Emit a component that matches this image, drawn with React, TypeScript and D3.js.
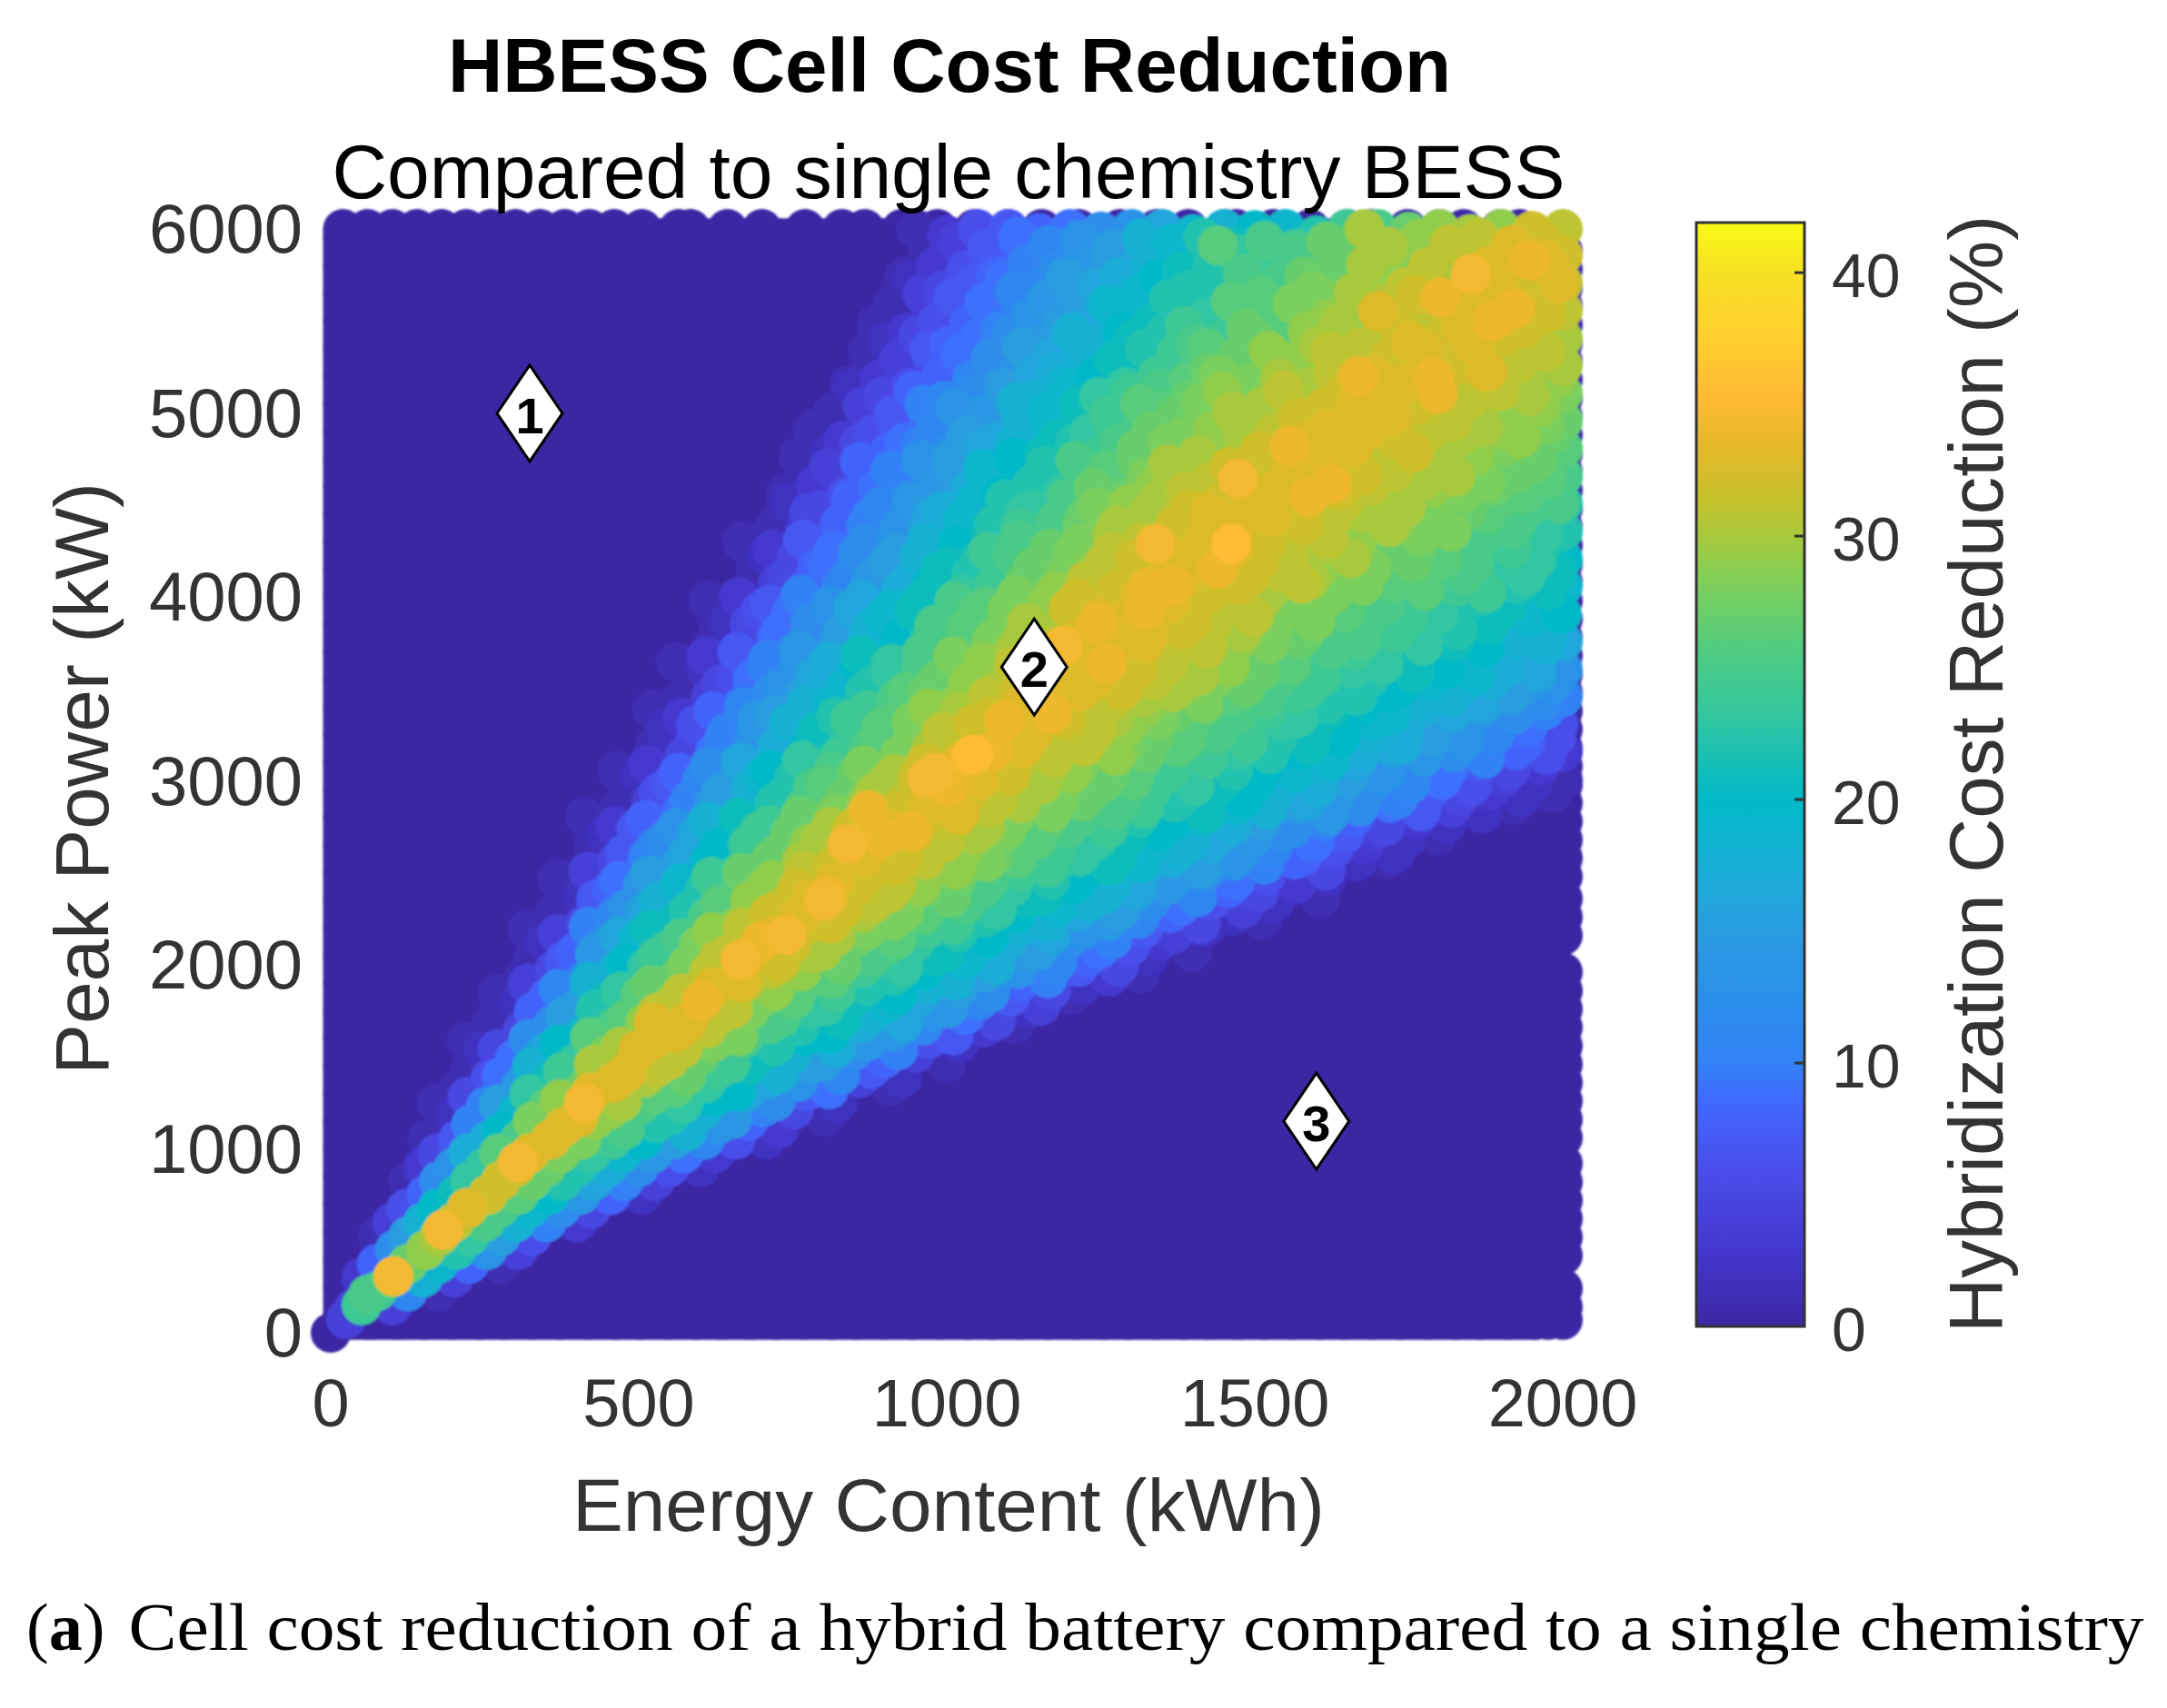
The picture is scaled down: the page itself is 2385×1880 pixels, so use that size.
import React from "react";
import * as d3 from "d3";

const titleText = "HBESS Cell Cost Reduction";
const subtitleText = "Compared to single chemistry BESS";
const xLabelText = "Energy Content (kWh)";
const yLabelText = "Peak Power (kW)";
const colorbarLabelText = "Hybridization Cost Reduction (%)";
const captionText = "Cell cost reduction of a hybrid battery compared to a single chemistry";

const xTicks = [0, 500, 1000, 1500, 2000];
const yTicks = [0, 1000, 2000, 3000, 4000, 5000, 6000];
const colorbarTicks = [0, 10, 20, 30, 40];
const colorbarMax = 41.9;

const colormapValues = [0, 3, 6, 8.5, 10, 13, 15, 17, 20, 23, 25.7, 28.3, 30, 31.3, 33.3, 35.2, 37.5, 40, 42];
const colormapColors = ["#3C27A4", "#4438CF", "#4A4EEA", "#4168FF", "#3282F5", "#2A92E8", "#2A9CE0", "#1CACD8", "#00B9C8", "#30C6A2", "#50CC80", "#80CF58", "#A8C93C", "#C4C22C", "#E2B82A", "#FFB935", "#FFCF2E", "#F6E024", "#FAFA14"];

// Zero-reduction simulation points that form the dark background.
const backgroundEnergy = [20, 64, 108, 152, 196, 240, 284, 328, 372, 416, 460, 504, 548, 592, 636, 680, 724, 768, 812, 856, 900, 944, 988, 1032, 1076, 1120, 1164, 1208, 1252, 1296, 1340, 1384, 1428, 1472, 1516, 1560, 1604, 1648, 1692, 1736, 1780, 1824, 1868, 1912, 1956, 1976];
const backgroundPower = [5950, 5800, 5650, 5500, 5350, 5200, 5050, 4900, 4750, 4600, 4450, 4300, 4150, 4000, 3850, 3700, 3550, 3400, 3250, 3100, 2950, 2800, 2650, 2500, 2350, 2200, 2050, 1900, 1750, 1600, 1450, 1300, 1150, 1000, 850, 700, 550, 400, 250, 100, 70];
const topEdgeEnergy = [20, 60, 100, 140, 180, 220, 260, 300, 340, 380, 420, 460, 505, 565, 584, 644, 700, 770, 830, 867, 927, 985, 1045, 1100, 1154, 1214, 1281, 1341, 1392, 1452, 1470, 1530, 1590, 1650, 1688, 1748, 1800, 1839, 1899, 1930];
const rightEdgePower = [5880, 5780, 5680, 5580, 5480, 5380, 5280, 5180, 5080, 4980, 4880, 4780, 4680, 4580, 4480, 4380, 4280, 4180, 4080, 3980, 3880, 3780, 3680, 3580, 3480, 3380, 3280, 3180, 3080, 2980, 2880, 2780, 2680, 2580, 2480, 2360, 2260, 2160, 1960, 1860, 1760, 1660, 1560, 1460, 1360, 1260, 1160, 1060, 920, 820, 720, 620, 520, 420, 240, 140, 70];

// Coloured band, first set of read points: one row per power level, one value per 50 kWh.
const bandPower = [6000, 5850, 5700, 5550, 5400, 5250, 5100, 4950, 4800, 4650, 4500, 4350, 4200, 4050, 3900, 3750, 3600, 3450, 3300, 3150, 3000, 2850, 2700, 2550, 2400, 2250, 2100, 1950, 1800, 1650, 1500, 1350, 1200, 1050, 900, 750, 600, 450, 300, 150];
const bandStartEnergy = [950, 950, 950, 900, 900, 850, 850, 800, 800, 750, 750, 700, 700, 650, 650, 600, 600, 550, 550, 500, 500, 450, 450, 400, 400, 350, 350, 300, 300, 250, 250, 200, 200, 150, 150, 150, 100, 100, 50, 50];
const bandRowShift = [0, 18, -6, 22, 4, 27, -3, 21, 8, 25, -5, 19, 6, 26, -2, 23, 9, 17, -7, 24, 3, 20, -4, 15, 7, 12, -2, 14, 3, 11, -1, 9, 2, 7, 0, 5, 0, 4, 0, 0];
const bandColumnPowerShift = [0, 4, -8, 12, -20, 30, -12, 24, -32, 10, 36, -18, 6, -38, 26, 14, -26, 34, -10, 20, -34, 8, 28, -22, 38, -14, 2, 32, -30, 16, -6, 22, -36, 12, 30, -16, 4, -28, 18, -10, 6];
const bandReduction = [
  [1, 3, 6, 7, 8, 9, 12, 13, 16, 19, 18, 20, 19, 22, 24, 25, 27, 29, 30, 29, 32, 31],
  [1, 3, 6, 8, 10, 12, 15, 16, 18, 20, 23, 22, 25, 24, 27, 29, 28, 30, 31, 32, 33, 32],
  [2, 5, 7, 9, 11, 15, 16, 17, 20, 22, 21, 25, 25, 28, 27, 29, 31, 30, 32, 33, 32, 33, 31],
  [1, 3, 6, 9, 10, 13, 14, 17, 19, 22, 23, 24, 26, 25, 29, 28, 31, 30, 32, 33, 34, 32, 31],
  [2, 5, 8, 9, 12, 14, 18, 18, 21, 22, 25, 24, 27, 26, 30, 29, 31, 33, 32, 33, 32, 31, 30],
  [1, 3, 6, 8, 11, 13, 17, 18, 20, 21, 24, 27, 26, 28, 29, 31, 30, 32, 33, 32, 33, 31, 29, 30],
  [2, 5, 8, 11, 12, 15, 18, 19, 23, 24, 25, 27, 29, 28, 31, 30, 32, 33, 32, 34, 31, 31, 30, 28, 28],
  [1, 3, 7, 9, 11, 14, 18, 19, 21, 24, 25, 27, 28, 30, 29, 32, 33, 32, 33, 31, 31, 30, 29, 28, 27, 27],
  [2, 5, 8, 10, 14, 16, 18, 21, 22, 24, 27, 28, 30, 29, 32, 33, 32, 33, 31, 32, 30, 29, 28, 27, 26, 25],
  [1, 3, 7, 9, 12, 15, 19, 20, 22, 25, 26, 28, 29, 31, 32, 31, 33, 34, 32, 31, 30, 30, 28, 27, 26, 25, 24],
  [2, 5, 8, 11, 14, 17, 19, 22, 23, 25, 28, 29, 30, 32, 32, 33, 32, 31, 31, 30, 30, 28, 27, 26, 25, 25, 22],
  [1, 3, 7, 10, 13, 16, 18, 21, 24, 25, 27, 30, 30, 32, 33, 33, 32, 31, 31, 29, 30, 28, 28, 25, 25, 23, 22, 22],
  [2, 5, 9, 12, 15, 18, 21, 22, 25, 27, 28, 31, 32, 33, 33, 32, 32, 31, 29, 30, 27, 27, 26, 25, 23, 23, 20],
  [1, 4, 7, 11, 14, 17, 20, 23, 24, 27, 29, 31, 32, 34, 33, 32, 32, 30, 31, 28, 28, 26, 26, 24, 24, 22, 21, 19],
  [2, 6, 9, 12, 16, 19, 21, 25, 26, 28, 29, 32, 33, 33, 32, 32, 30, 31, 28, 28, 26, 25, 24, 23, 21, 21, 19, 20],
  [1, 4, 8, 11, 15, 18, 20, 23, 26, 28, 30, 31, 33, 33, 33, 31, 31, 29, 28, 27, 25, 25, 23, 23, 21, 20, 18, 18, 16],
  [2, 6, 10, 13, 17, 20, 23, 25, 27, 28, 31, 32, 33, 32, 32, 31, 30, 29, 27, 26, 24, 23, 23, 21, 20, 19, 17, 16, 13],
  [1, 4, 8, 12, 15, 19, 22, 25, 27, 29, 31, 32, 33, 33, 31, 30, 30, 28, 26, 25, 24, 22, 22, 20, 18, 18, 16, 15, 12, 10],
  [2, 6, 10, 14, 18, 21, 24, 26, 28, 31, 32, 34, 32, 32, 31, 29, 28, 26, 25, 23, 23, 21, 20, 19, 17, 15, 13, 11, 9, 6],
  [1, 5, 9, 13, 17, 20, 24, 25, 28, 30, 32, 34, 33, 31, 31, 29, 27, 26, 24, 23, 22, 20, 19, 17, 16, 14, 12, 10, 8, 6, 3],
  [2, 7, 11, 15, 19, 22, 26, 27, 30, 32, 34, 33, 32, 30, 29, 27, 26, 24, 23, 21, 20, 18, 17, 15, 13, 11, 9, 6, 4, 2, 1],
  [1, 4, 9, 14, 18, 22, 25, 28, 29, 32, 33, 33, 31, 30, 28, 27, 25, 24, 22, 21, 19, 18, 15, 14, 12, 9, 7, 4, 2, 1],
  [2, 7, 12, 16, 20, 24, 27, 30, 32, 34, 33, 31, 30, 28, 26, 25, 23, 21, 20, 18, 16, 14, 12, 9, 7, 4, 2, 1],
  [1, 5, 10, 15, 20, 23, 27, 30, 32, 33, 32, 31, 29, 28, 26, 24, 23, 21, 19, 17, 15, 13, 10, 8, 5, 2, 1],
  [2, 8, 13, 18, 22, 26, 29, 32, 34, 32, 31, 29, 27, 25, 23, 21, 20, 18, 16, 14, 11, 8, 5, 2, 1],
  [1, 5, 11, 16, 21, 25, 29, 32, 33, 32, 30, 28, 26, 24, 22, 20, 18, 16, 14, 11, 8, 5, 2, 1],
  [2, 8, 14, 19, 24, 28, 31, 34, 32, 30, 27, 25, 23, 21, 19, 17, 15, 12, 9, 6, 3, 1],
  [1, 5, 11, 18, 23, 27, 31, 33, 31, 29, 26, 24, 22, 20, 18, 15, 13, 10, 7, 3, 1],
  [2, 8, 15, 21, 26, 30, 34, 31, 28, 26, 23, 21, 19, 16, 14, 11, 7, 4, 1],
  [1, 5, 12, 19, 25, 29, 33, 31, 28, 25, 22, 20, 17, 14, 11, 7, 3, 1],
  [2, 9, 16, 23, 28, 33, 31, 27, 24, 21, 18, 15, 12, 8, 4, 1],
  [1, 6, 14, 21, 27, 33, 30, 26, 23, 20, 16, 13, 9, 4, 1],
  [2, 10, 19, 26, 33, 29, 25, 22, 18, 14, 10, 5, 1],
  [1, 7, 17, 25, 33, 28, 24, 20, 15, 11, 6, 2],
  [3, 13, 23, 32, 27, 22, 17, 12, 6, 2],
  [8, 21, 32, 26, 20, 14, 8, 2],
  [4, 18, 31, 25, 18, 10, 3],
  [12, 29, 22, 13, 4],
  [3, 28, 18, 4],
  [24, 4],
];

// Coloured band, second set of read points lying between the rows of the first.
const midPower = [5925, 5775, 5625, 5475, 5325, 5175, 5025, 4875, 4725, 4575, 4425, 4275, 4125, 3975, 3825, 3675, 3525, 3375, 3225, 3075, 2925, 2775, 2625, 2475, 2325, 2175, 2025, 1875, 1725, 1575, 1425, 1275, 1125, 975, 825, 675, 525, 375, 225, 75];
const midStartEnergy = [975, 925, 925, 875, 875, 825, 825, 775, 775, 725, 725, 675, 675, 625, 625, 575, 575, 525, 525, 475, 475, 425, 425, 375, 375, 325, 325, 275, 275, 225, 225, 175, 175, 175, 125, 125, 75, 75, 75, 25];
const midRowShift = [-9, 6, -14, 11, -3, 16, -11, 7, -16, 13, 2, -8, 15, -12, 5, -15, 10, -4, 14, -10, 8, -13, 3, -7, 6, -6, 4, -5, 5, -4, 2, -3, 3, -2, 1, -2, 1, 0, 0, 0];
const midColumnPowerShift = [6, -10, 18, -26, 8, -34, 22, -6, 32, -20, 14, -30, 4, 26, -16, 36, -24, 10, -38, 20, 2, -28, 34, -12, 16, -36, 24, -4, 28, -18, 12, -32, 6, 30, -22, 18, -8, 24, -14, 10, 0];
const midReduction = [
  [1, 4, 7, 9, 11, 13, 15, 18, 19, 22, 21, 25, 24, 27, 26, 30, 29, 31, 31, 33, 32],
  [1, 3, 6, 8, 10, 12, 14, 17, 18, 21, 22, 25, 24, 27, 27, 30, 28, 31, 30, 33, 32, 33],
  [1, 4, 7, 9, 11, 14, 15, 19, 19, 22, 22, 26, 26, 28, 28, 30, 30, 32, 31, 33, 32, 31],
  [1, 3, 6, 8, 10, 13, 15, 16, 20, 21, 24, 23, 27, 26, 29, 30, 29, 32, 31, 33, 34, 32, 30],
  [1, 4, 7, 9, 12, 15, 16, 18, 21, 22, 24, 26, 27, 29, 29, 31, 31, 32, 33, 32, 32, 30, 31],
  [1, 3, 6, 8, 11, 14, 16, 18, 20, 23, 24, 26, 28, 28, 30, 30, 31, 33, 33, 34, 31, 31, 30, 29],
  [1, 4, 7, 10, 13, 14, 18, 19, 21, 24, 26, 26, 28, 30, 30, 31, 32, 33, 32, 32, 31, 30, 29, 29],
  [1, 3, 6, 9, 11, 15, 16, 18, 21, 23, 25, 27, 28, 29, 30, 31, 33, 33, 33, 32, 31, 30, 29, 29, 27],
  [1, 4, 8, 10, 13, 15, 19, 20, 22, 25, 26, 27, 30, 30, 32, 32, 33, 33, 32, 30, 30, 30, 28, 27, 27],
  [1, 3, 6, 9, 11, 14, 17, 20, 22, 23, 27, 27, 29, 31, 31, 32, 33, 34, 32, 31, 30, 29, 28, 27, 26, 24],
  [1, 5, 8, 10, 13, 16, 19, 22, 23, 25, 27, 30, 30, 31, 33, 33, 33, 32, 31, 30, 29, 28, 27, 26, 25, 23],
  [1, 3, 7, 9, 12, 15, 18, 20, 24, 25, 27, 28, 31, 31, 32, 33, 33, 32, 30, 30, 29, 27, 27, 25, 24, 24, 22],
  [1, 5, 8, 11, 14, 17, 21, 22, 24, 27, 28, 29, 31, 32, 33, 34, 32, 31, 30, 28, 28, 26, 25, 25, 23, 23, 21],
  [1, 3, 7, 10, 13, 16, 19, 21, 25, 26, 28, 29, 32, 32, 33, 33, 32, 31, 30, 28, 28, 25, 25, 24, 22, 22, 21, 19],
  [1, 5, 9, 12, 15, 18, 20, 25, 26, 27, 30, 30, 32, 33, 33, 32, 31, 30, 28, 27, 25, 25, 24, 22, 22, 21, 18, 18],
  [1, 3, 7, 10, 14, 17, 21, 23, 25, 28, 29, 30, 32, 33, 34, 32, 31, 30, 28, 26, 26, 24, 24, 22, 21, 19, 19, 17, 15],
  [1, 5, 9, 13, 16, 19, 22, 26, 27, 29, 30, 32, 33, 33, 32, 31, 29, 28, 27, 25, 24, 22, 22, 20, 19, 18, 17, 14, 13],
  [1, 3, 8, 11, 15, 18, 22, 24, 26, 29, 30, 32, 33, 34, 31, 30, 29, 27, 26, 25, 24, 23, 21, 20, 19, 17, 16, 14, 12, 10],
  [1, 5, 10, 13, 17, 21, 23, 26, 28, 30, 31, 33, 33, 31, 30, 28, 27, 26, 25, 24, 22, 21, 20, 18, 17, 15, 13, 11, 8, 6],
  [1, 3, 8, 12, 16, 20, 23, 25, 28, 30, 32, 33, 32, 31, 30, 28, 27, 26, 24, 23, 22, 20, 19, 18, 16, 13, 11, 9, 7, 5, 3],
  [1, 6, 10, 15, 18, 22, 25, 27, 30, 31, 33, 32, 31, 30, 28, 27, 25, 24, 22, 21, 20, 18, 16, 14, 12, 10, 7, 5, 3, 2, 1],
  [1, 3, 8, 13, 18, 21, 24, 27, 30, 32, 33, 32, 31, 30, 28, 26, 25, 24, 22, 20, 19, 17, 15, 12, 10, 8, 5, 3, 2],
  [1, 7, 11, 16, 20, 24, 27, 29, 31, 33, 32, 31, 29, 27, 26, 24, 23, 21, 19, 18, 16, 13, 11, 8, 6, 3, 2],
  [1, 4, 9, 15, 19, 24, 27, 29, 31, 33, 32, 31, 29, 27, 25, 24, 22, 20, 18, 16, 14, 12, 9, 6, 3, 2],
  [1, 7, 13, 18, 22, 26, 29, 31, 33, 32, 31, 28, 26, 25, 23, 21, 19, 18, 15, 12, 9, 6, 4, 2],
  [1, 4, 10, 16, 21, 25, 29, 31, 33, 32, 30, 28, 26, 24, 22, 20, 18, 16, 13, 10, 7, 4, 2],
  [1, 7, 14, 20, 24, 28, 31, 33, 32, 30, 27, 25, 23, 21, 19, 17, 14, 11, 8, 5, 2],
  [1, 4, 11, 18, 23, 27, 31, 33, 32, 29, 26, 24, 22, 20, 18, 15, 12, 8, 5, 2],
  [1, 8, 15, 22, 26, 31, 33, 31, 28, 25, 23, 21, 18, 16, 13, 9, 5, 2],
  [1, 5, 12, 20, 26, 30, 33, 31, 28, 25, 22, 20, 17, 14, 10, 6, 2],
  [1, 9, 18, 24, 30, 33, 31, 27, 24, 21, 18, 15, 11, 7, 2],
  [1, 5, 15, 23, 29, 33, 30, 26, 23, 20, 16, 12, 7, 2],
  [1, 10, 20, 28, 33, 29, 25, 22, 18, 13, 8, 3],
  [5, 17, 26, 33, 28, 23, 19, 14, 9, 3],
  [1, 12, 23, 32, 27, 22, 16, 10, 4],
  [6, 20, 31, 25, 19, 12, 5],
  [1, 15, 30, 23, 15, 6],
  [8, 27, 19, 8, 1],
  [24, 11, 1],
  [4],
];

// Individually legible bubbles.
const bubbleEnergy = [0, 38, 61, 102, 183, 221, 304, 411, 484, 524, 575, 665, 739, 801, 839, 873, 941, 969, 981, 1037, 1043, 1189, 1245, 1322, 1339, 1367, 1462, 1473, 1556, 1668, 1700, 1801, 1851, 1901, 1947, 1440, 1678, 1935];
const bubblePower = [0, 134, 208, 307, 560, 679, 927, 1249, 1428, 1686, 1671, 2028, 2162, 2350, 2657, 2841, 2727, 3014, 3043, 3133, 3143, 3733, 3857, 3935, 4288, 4060, 4288, 4642, 4820, 5200, 5553, 5627, 5755, 5528, 5830, 5910, 6000, 4695];
const bubbleReduction = [0, 4, 25, 34.5, 34.5, 33, 34.5, 34.5, 32, 33, 32, 34.5, 34.5, 34.5, 34.5, 34, 34, 34.5, 34.5, 34.5, 35.5, 34.5, 34, 34, 34.5, 34, 35.5, 34.5, 34, 34, 33, 34, 34.5, 33, 34, 26, 30, 27];

const markerEnergy = [323, 1142, 1600];
const markerPower = [4998, 3619, 1150];
const markerLabels = ["1", "2", "3"];

const sans = "'Liberation Sans', Arial, sans-serif";
const serif = "'Liberation Serif', serif";

type Pt = { e: number; p: number; v: number };

export default function App() {
  const x = d3.scaleLinear().domain([0, 2000]).range([364, 1720]);
  const y = d3.scaleLinear().domain([0, 6000]).range([1467, 252]);
  const cbY = d3.scaleLinear().domain([0, colorbarMax]).range([1460, 245]);
  const color = d3.scaleLinear<string>().domain(colormapValues).range(colormapColors);

  const points: Pt[] = [];
  backgroundPower.forEach((p) => backgroundEnergy.forEach((e) => points.push({ e, p, v: 0 })));
  topEdgeEnergy.forEach((e) => points.push({ e, p: 6000, v: 0 }));
  rightEdgePower.forEach((p) => points.push({ e: 2000, p, v: 0 }));
  const addBand = (rows: number[][], power: number[], start: number[], rowShift: number[], colShift: number[]) => {
    rows.forEach((row, i) => {
      row.forEach((v, j) => {
        const base = start[i] + j * 50;
        const col = Math.min(colShift.length - 1, Math.floor(base / 50));
        points.push({
          e: Math.min(2000, base + rowShift[i]),
          p: Math.min(6000, power[i] + (power[i] > 1100 ? colShift[col] : 0)),
          v,
        });
      });
    });
  };
  addBand(bandReduction, bandPower, bandStartEnergy, bandRowShift, bandColumnPowerShift);
  addBand(midReduction, midPower, midStartEnergy, midRowShift, midColumnPowerShift);
  bubbleEnergy.forEach((e, i) => points.push({ e, p: bubblePower[i], v: bubbleReduction[i] }));
  const sorted = d3.sort(points, (a, b) => d3.ascending(a.v, b.v));

  const diamond = d3.line<[number, number]>();
  const bgLeft = x(20) - 22;
  const bgRight = x(1976);
  const bgTop = y(5950);
  const bgBottom = y(70) + 22;

  return (
    <svg width={2385} height={1880} style={{ position: "absolute", left: 0, top: 0, background: "#fff" }}>
      <defs>
        <linearGradient id="cb" x1="0" y1="1" x2="0" y2="0">
          {colormapValues.map((v, i) => (
            <stop key={i} offset={Math.min(1, v / colorbarMax)} stopColor={colormapColors[i]} />
          ))}
        </linearGradient>
        <filter id="soft" x="-2%" y="-2%" width="104%" height="104%">
          <feGaussianBlur stdDeviation="0.9" />
        </filter>
      </defs>

      <g filter="url(#soft)">
        <rect x={bgLeft} y={bgTop - 22} width={bgRight - bgLeft} height={bgBottom - bgTop + 22} rx={14} fill={color(0)} />
        {sorted.map((d, i) => (
          <circle key={i} cx={x(d.e)} cy={y(d.p)} r={22} fill={color(d.v)} />
        ))}
      </g>

      {markerLabels.map((t, i) => {
        const cx = x(markerEnergy[i]);
        const cy = y(markerPower[i]);
        const path = diamond([[cx, cy - 53], [cx + 36, cy], [cx, cy + 53], [cx - 36, cy]]) + "Z";
        return (
          <g key={t}>
            <path d={path} fill="#fff" stroke="#000" strokeWidth={3} />
            <text x={cx} y={cy + 22} textAnchor="middle" fontFamily={sans} fontWeight="bold" fontSize={56} fill="#000">{t}</text>
          </g>
        );
      })}

      <text x={1045} y={101} textAnchor="middle" fontFamily={sans} fontWeight="bold" fontSize={84} textLength={1104} lengthAdjust="spacingAndGlyphs" fill="#000">{titleText}</text>
      <text x={1044} y={218} textAnchor="middle" fontFamily={sans} fontSize={84} textLength={1357} lengthAdjust="spacingAndGlyphs" fill="#000">{subtitleText}</text>

      {yTicks.map((t) => (
        <text key={t} x={333} y={y(t) + 26} textAnchor="end" fontFamily={sans} fontSize={76} fill="#333">{t}</text>
      ))}
      {xTicks.map((t) => (
        <text key={t} x={x(t)} y={1570} textAnchor="middle" fontFamily={sans} fontSize={74} fill="#333">{t}</text>
      ))}
      <text x={1044} y={1685} textAnchor="middle" fontFamily={sans} fontSize={82} textLength={828} lengthAdjust="spacingAndGlyphs" fill="#333">{xLabelText}</text>
      <text transform="translate(118.6,857) rotate(-90)" textAnchor="middle" fontFamily={sans} fontSize={84} textLength={652} lengthAdjust="spacingAndGlyphs" fill="#333">{yLabelText}</text>

      <rect x={1867} y={245} width={119} height={1215} fill="url(#cb)" stroke="#333" strokeWidth={3} />
      {colorbarTicks.map((t) => (
        <g key={t}>
          {t > 0 && <line x1={1975} x2={1986} y1={cbY(t)} y2={cbY(t)} stroke="#333" strokeWidth={3} />}
          <text x={2016} y={cbY(t) + 27} fontFamily={sans} fontSize={68} fill="#333">{t}</text>
        </g>
      ))}
      <text transform="translate(2204,852) rotate(-90)" textAnchor="middle" fontFamily={sans} fontSize={84} textLength={1230} lengthAdjust="spacingAndGlyphs" fill="#333">{colorbarLabelText}</text>

      <text x={29} y={1816} fontFamily={serif} fontSize={74} fill="#000">(<tspan fontWeight="bold">a</tspan>)</text>
      <text x={141.5} y={1816} fontFamily={serif} fontSize={74} textLength={2218} lengthAdjust="spacingAndGlyphs" fill="#000">{captionText}</text>
    </svg>
  );
}
